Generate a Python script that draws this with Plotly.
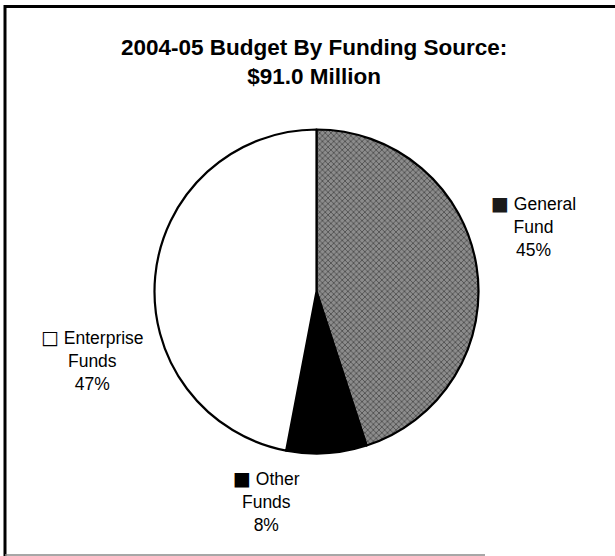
import plotly.graph_objects as go

# Data
title_lines = ["2004-05 Budget By Funding Source:", "$91.0 Million"]
categories = ["General Fund", "Other Funds", "Enterprise Funds"]
label_lines = [["General", "Fund"], ["Other", "Funds"], ["Enterprise", "Funds"]]
percents = [45, 8, 47]
markers = ["■", "■", "□"]
marker_colors = ["#1a1a1a", "#000000", "#000000"]
slice_colors = ["#8c8c8c", "#000000", "#ffffff"]

W, H = 615, 556

fig = go.Figure()
fig.add_trace(go.Pie(
    labels=categories,
    values=percents,
    sort=False,
    direction="clockwise",
    rotation=0,
    textinfo="none",
    hoverinfo="label+percent",
    showlegend=False,
    marker=dict(
        colors=slice_colors,
        line=dict(color="#000000", width=2.2),
        pattern=dict(
            shape=["x", "", ""],
            fgcolor=["#3a3a3a", "#000000", "#ffffff"],
            bgcolor=slice_colors,
            size=4,
            solidity=0.3,
            fillmode="replace",
        ),
    ),
    domain=dict(x=[(316.5 - 162) / W, (316.5 + 162) / W],
                y=[(H - 291.5 - 162) / H, (H - 291.5 + 162) / H]),
))

# label positions (pixel centers of the text blocks)
label_pos = [(533, 226), (266, 501), (92, 360)]
annotations = []
for i in range(len(categories)):
    first, second = label_lines[i]
    txt = (f"<span style='color:{marker_colors[i]};font-size:19px;font-family:DejaVu Sans'>{markers[i]}</span> {first}<br>"
           f"{second}<br>{percents[i]}%")
    cx, cy = label_pos[i]
    annotations.append(dict(
        x=cx / W, y=1 - cy / H, xref="paper", yref="paper",
        text=txt, showarrow=False, align="center",
        xanchor="center", yanchor="middle",
        font=dict(family="Liberation Sans, Arial, sans-serif", size=17.5, color="#000000"),
    ))

annotations.append(dict(
    x=313.5 / W, y=1 - 62 / H, xref="paper", yref="paper",
    text="<b>" + "<br>".join(title_lines) + "</b>", showarrow=False,
    align="center", xanchor="center", yanchor="middle",
    font=dict(family="Liberation Sans, Arial, sans-serif", size=22.5, color="#000000"),
))

shapes = [
    dict(type="line", xref="paper", yref="paper", x0=5 / W, x1=5 / W, y0=0, y1=1 - 5 / H,
         line=dict(color="#000000", width=3)),
    dict(type="line", xref="paper", yref="paper", x0=4 / W, x1=1, y0=1 - 6.5 / H, y1=1 - 6.5 / H,
         line=dict(color="#000000", width=3)),
    dict(type="line", xref="paper", yref="paper", x0=5 / W, x1=485 / W, y0=1 - 555 / H, y1=1 - 555 / H,
         line=dict(color="#8a8a8a", width=1.5)),
]

fig.update_layout(
    width=W, height=H,
    margin=dict(l=0, r=0, t=0, b=0),
    paper_bgcolor="#ffffff",
    plot_bgcolor="#ffffff",
    annotations=annotations,
    shapes=shapes,
)

fig.write_html("out.html")
